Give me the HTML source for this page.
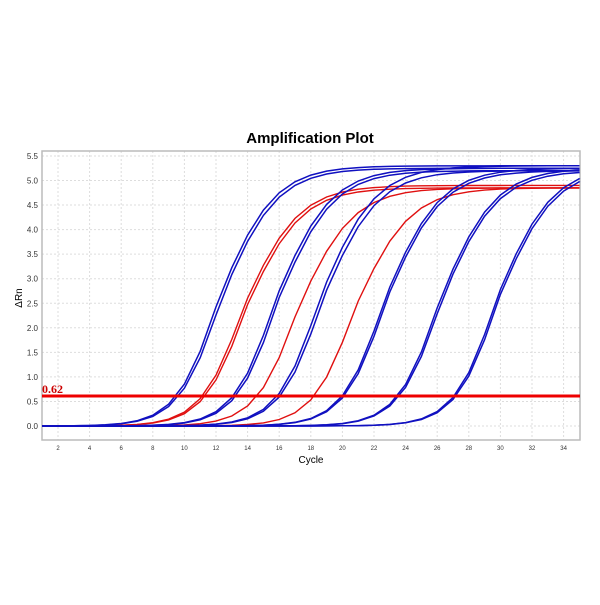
<!DOCTYPE html>
<html><head><style>body{margin:0;background:#fff}</style></head><body>
<svg id="s" width="600" height="600" xmlns="http://www.w3.org/2000/svg" font-family="Liberation Sans, sans-serif">
<rect width="600" height="600" fill="#fff"/>
<text x="310" y="143" font-size="15" font-weight="bold" text-anchor="middle">Amplification Plot</text>
<g id="grid"></g>
<rect x="42" y="151" width="538" height="289" fill="none" stroke="#bbb" stroke-width="1.5"/>
<text x="22" y="298" font-size="10" text-anchor="middle" transform="rotate(-90 22 298)">ΔRn</text>
<text x="311" y="463" font-size="10" text-anchor="middle">Cycle</text>
<g id="curves" fill="none" stroke-width="1.6"></g>
<line x1="42" y1="396" x2="580" y2="396" stroke="#e00" stroke-width="3"/>
<text x="42" y="393" font-family="Liberation Serif, serif" font-weight="bold" font-size="12" fill="#c00">0.62</text>
</svg>
<script>
const NS="http://www.w3.org/2000/svg";
const X=c=>58+(c-2)*15.8, Y=v=>426-v*49.1;
const g=document.getElementById('grid'),cv=document.getElementById('curves');
function el(p,t,a,txt){const e=document.createElementNS(NS,t);for(const k in a)e.setAttribute(k,a[k]);if(txt)e.textContent=txt;p.appendChild(e);return e;}
for(let v=0;v<=5.5;v+=0.5){const y=Y(v);el(g,'line',{x1:42,x2:580,y1:y,y2:y,stroke:'#ddd','stroke-dasharray':'2,2'});el(g,'text',{x:38,y:y+3,'font-size':8,'text-anchor':'end',fill:'#333'},v.toFixed(1));}
for(let c=2;c<=34;c+=2){const x=X(c);el(g,'line',{x1:x,x2:x,y1:151,y2:440,stroke:'#ddd','stroke-dasharray':'2,2'});el(g,'text',{x:x,y:450,'font-size':6,'text-anchor':'middle',fill:'#333'},c);}
const sl=1.35, sh=1.75;
function f(c,h,P){const s=c<h?sl:sh;return P/(1+Math.exp(-(c-h)/s));}
function curve(ct,P,col,w){const h=ct+2.02*sl;let pts=[];const b=f(1,h,P);for(let c=1;c<=35;c+=1){pts.push(X(c).toFixed(1)+','+Y(f(c,h,P)-b).toFixed(1));}
pts.push('579.5,'+Y(f(35.05,h,P)-b).toFixed(1));
el(cv,'polyline',{points:pts.join(' '),stroke:col,'stroke-width':w});}
const blue=[[9.5,5.3],[9.65,5.25],[13.1,5.25],[13.25,5.2],[15.9,5.3],[16.05,5.2],[20.0,5.25],[20.1,5.2],[23.5,5.25],[23.6,5.2],[27.1,5.3],[27.2,5.25]];
const red=[[11.05,4.9],[11.2,4.85],[14.5,4.85],[18.1,4.85]];
red.forEach(r=>curve(r[0],r[1],'#e01010',1.4));
blue.forEach(b=>curve(b[0],b[1],'#1010c0',1.5));
</script>
</body></html>
